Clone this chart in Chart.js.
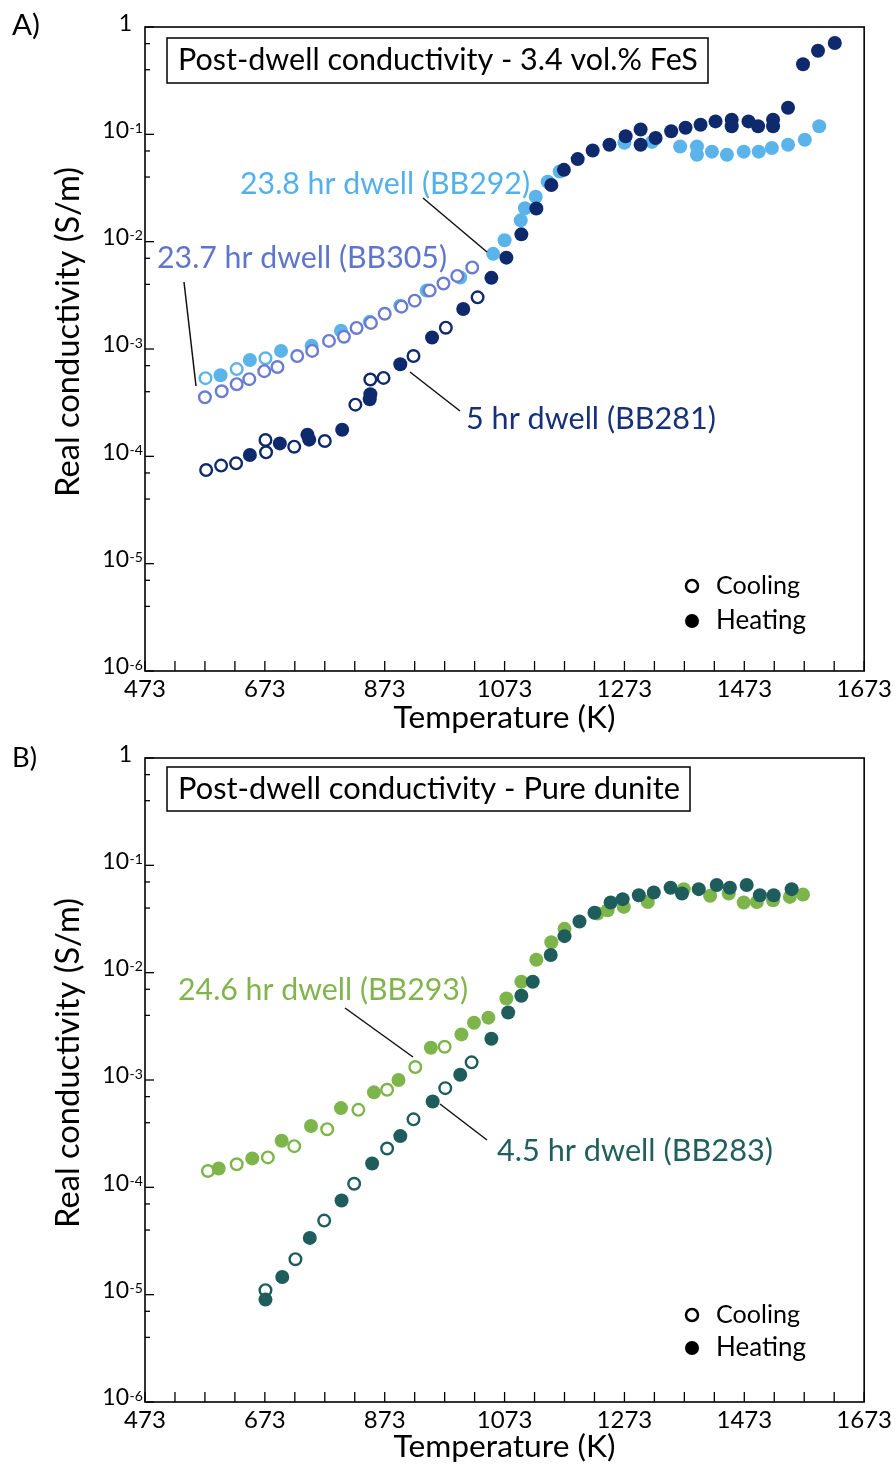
<!DOCTYPE html>
<html><head><meta charset="utf-8">
<script src="https://cdn.jsdelivr.net/npm/chart.js@4.4.1/dist/chart.umd.min.js"></script>
<style>
html,body{margin:0;padding:0;background:#fff;}
#wrap{position:relative;width:896px;height:1466px;overflow:hidden;background:#fff;}
canvas{position:absolute;left:0;}
</style></head>
<body><div id="wrap">
<canvas id="ca" width="896" height="735" style="top:0px"></canvas>
<canvas id="cb" width="896" height="735" style="top:731px"></canvas>
</div>
<script>
// ---------- DATA ----------
const xTickLabels = [473, 673, 873, 1073, 1273, 1473, 1673];
const yDecades = [-6, -5, -4, -3, -2, -1, 0];

// Panel A: 3.4 vol.% FeS
const BB281_coolT = [575, 600, 625, 675, 674, 722, 773, 824, 849, 871, 921, 975, 1028];
const BB281_coolS = [7.45e-5, 8.2e-5, 8.6e-5, 1.09e-4, 1.42e-4, 1.23e-4, 1.39e-4, 3.03e-4, 5.2e-4, 5.38e-4, 8.6e-4, 1.58e-3, 3.03e-3];
const BB281_heatT = [648, 698, 744, 747, 802, 848, 849, 899, 952, 1004, 1051, 1076, 1101, 1126, 1151, 1172, 1195, 1220, 1248, 1275, 1300, 1300, 1325, 1351, 1375, 1400, 1425, 1452, 1452, 1480, 1496, 1521, 1521, 1546, 1571, 1596, 1624];
const BB281_heatS = [1.03e-4, 1.32e-4, 1.59e-4, 1.43e-4, 1.77e-4, 3.4e-4, 3.79e-4, 7.2e-4, 1.28e-3, 2.36e-3, 4.6e-3, 7.1e-3, 1.17e-2, 2.04e-2, 3.37e-2, 4.67e-2, 5.88e-2, 7.08e-2, 8.0e-2, 9.6e-2, 0.111, 0.080, 0.0925, 0.107, 0.115, 0.123, 0.132, 0.137, 0.119, 0.132, 0.119, 0.137, 0.119, 0.177, 0.45, 0.60, 0.71];

const BB292_coolT = [574, 626, 674];
const BB292_coolS = [5.35e-4, 6.5e-4, 8.2e-4];
const BB292_heatT = [599, 648, 700, 751, 800, 848, 899, 943, 999, 1054, 1073, 1100, 1107, 1125, 1145, 1165, 1273, 1319, 1366, 1394, 1394, 1419, 1444, 1472, 1497, 1519, 1546, 1574, 1598];
const BB292_heatS = [5.7e-4, 7.9e-4, 9.6e-4, 1.07e-3, 1.48e-3, 1.79e-3, 2.53e-3, 3.5e-3, 4.63e-3, 7.7e-3, 1.03e-2, 1.58e-2, 2.05e-2, 2.62e-2, 3.62e-2, 4.5e-2, 8.35e-2, 8.5e-2, 7.7e-2, 7.7e-2, 6.45e-2, 6.9e-2, 6.45e-2, 6.9e-2, 6.9e-2, 7.45e-2, 8.0e-2, 8.9e-2, 0.119];

const BB305_coolT = [573, 601, 626, 647, 672, 694, 727, 752, 780, 805, 826, 850, 873, 901, 923, 948, 971, 994, 1019];
const BB305_coolS = [3.55e-4, 4.04e-4, 4.7e-4, 5.24e-4, 6.22e-4, 6.8e-4, 8.6e-4, 9.6e-4, 1.19e-3, 1.3e-3, 1.57e-3, 1.75e-3, 2.13e-3, 2.48e-3, 2.82e-3, 3.5e-3, 4.07e-3, 4.8e-3, 5.75e-3];

// Panel B: pure dunite
const BB293_coolT = [578, 626, 678, 722, 777, 829, 877, 924, 973];
const BB293_coolS = [1.42e-4, 1.64e-4, 1.9e-4, 2.42e-4, 3.48e-4, 5.27e-4, 8.1e-4, 1.32e-3, 2.04e-3];
const BB293_heatT = [596, 652, 701, 750, 800, 855, 896, 950, 1001, 1022, 1046, 1076, 1101, 1126, 1151, 1173, 1228, 1245, 1272, 1312, 1372, 1416, 1447, 1472, 1494, 1521, 1549, 1571];
const BB293_heatS = [1.5e-4, 1.86e-4, 2.72e-4, 3.73e-4, 5.47e-4, 7.67e-4, 1.0e-3, 2.0e-3, 2.66e-3, 3.42e-3, 3.81e-3, 5.74e-3, 8.24e-3, 1.32e-2, 1.92e-2, 2.56e-2, 3.55e-2, 3.82e-2, 4.1e-2, 4.56e-2, 6.0e-2, 5.2e-2, 5.46e-2, 4.5e-2, 4.56e-2, 4.73e-2, 5.08e-2, 5.34e-2];

const BB283_coolT = [674, 724, 772, 822, 877, 921, 974, 1018];
const BB283_coolS = [1.1e-5, 2.14e-5, 4.9e-5, 1.08e-4, 2.3e-4, 4.3e-4, 8.4e-4, 1.46e-3];
const BB283_heatT = [674, 702, 748, 801, 852, 899, 953, 999, 1051, 1079, 1101, 1120, 1150, 1173, 1198, 1223, 1250, 1270, 1297, 1322, 1350, 1369, 1397, 1427, 1449, 1477, 1499, 1522, 1552];
const BB283_heatS = [9.0e-6, 1.46e-5, 3.38e-5, 7.55e-5, 1.67e-4, 3.0e-4, 6.3e-4, 1.12e-3, 2.42e-3, 4.25e-3, 6.1e-3, 8.24e-3, 1.46e-2, 2.19e-2, 3.0e-2, 3.62e-2, 4.5e-2, 4.84e-2, 5.27e-2, 5.58e-2, 6.18e-2, 5.46e-2, 6.0e-2, 6.55e-2, 6.18e-2, 6.55e-2, 5.27e-2, 5.27e-2, 6.0e-2];

// ---------- STYLE ----------
const FONT = 'Lato, "Open Sans", "DejaVu Sans", sans-serif';
const C_NAVY = '#0f2a6c', C_LIGHT = '#5ab4ea', C_PERI = '#6a7bd2', C_GREEN = '#7db54b', C_TEAL = '#1e5d5c';

function pts(T, S) { return T.map((t, i) => ({x: t, y: S[i]})); }
function openSet(T, S, color) {
  return {data: pts(T, S), pointRadius: 5.8, pointBorderWidth: 2.4, pointBorderColor: color,
          pointBackgroundColor: '#ffffff', showLine: false};
}
function fillSet(T, S, color) {
  return {data: pts(T, S), pointRadius: 7, pointBorderWidth: 0, pointBorderColor: color,
          pointBackgroundColor: color, showLine: false};
}

function fitText(ctx, text, x, y, w, align) {
  ctx.font = '100px ' + FONT;
  const m = ctx.measureText(text).width;
  const size = 100 * w / m;
  ctx.font = size.toFixed(2) + 'px ' + FONT;
  ctx.textAlign = align || 'left';
  ctx.textBaseline = 'middle';
  ctx.fillText(text, x, y);
}
function seg(ctx, x1, y1, x2, y2) { ctx.beginPath(); ctx.moveTo(x1, y1); ctx.lineTo(x2, y2); ctx.stroke(); }

const deco = {
  id: 'deco',
  afterDraw(chart) {
    const d = chart.options.plugins.deco;
    const ctx = chart.ctx, a = chart.chartArea, xs = chart.scales.x, ys = chart.scales.y;
    ctx.save();
    ctx.strokeStyle = '#000'; ctx.fillStyle = '#000';
    // frame
    ctx.lineWidth = 1.6;
    ctx.strokeRect(a.left, a.top, a.right - a.left, a.bottom - a.top);
    // inward ticks
    ctx.lineWidth = 1.3;
    xs.ticks.forEach(t => { const x = xs.getPixelForValue(t.value); seg(ctx, x, a.bottom, x, a.bottom - 10); });
    ys.ticks.forEach(t => { const y = ys.getPixelForValue(t.value); seg(ctx, a.left, y, a.left + (t.major ? 9 : 5), y); });
    // y tick labels with superscripts
    yDecades.forEach(e => {
      const y = ys.getPixelForValue(Math.pow(10, e));
      ctx.textBaseline = 'middle';
      if (e === 0) {
        ctx.font = '23px ' + FONT; ctx.textAlign = 'right'; ctx.fillText('1', 132, y - 3);
      } else {
        ctx.font = '23px ' + FONT; ctx.textAlign = 'right'; ctx.fillText('10', 129, y - 4);
        ctx.font = '14px ' + FONT; ctx.textAlign = 'left'; ctx.textBaseline = 'top';
        ctx.fillText('-' + (-e), 129.5, y - 13);
      }
    });
    // axis titles
    fitText(ctx, 'Temperature (K)', (a.left + a.right) / 2 + 0, d.xTitleY, 222, 'center');
    ctx.save(); ctx.translate(68, d.yTitleY); ctx.rotate(-Math.PI / 2);
    fitText(ctx, 'Real conductivity (S/m)', 0, 0, 330, 'center'); ctx.restore();
    // panel letter
    fitText(ctx, d.letter, 12, d.letterY, d.letterW, 'left');
    // title box
    ctx.lineWidth = 1.5;
    const b = d.box;
    ctx.fillStyle = '#fff'; ctx.fillRect(b[0], b[1], b[2] - b[0], b[3] - b[1]);
    ctx.strokeRect(b[0], b[1], b[2] - b[0], b[3] - b[1]);
    ctx.fillStyle = '#000';
    fitText(ctx, d.title, b[0] + 11, (b[1] + b[3]) / 2, d.titleW, 'left');
    // annotations
    d.notes.forEach(n => {
      ctx.strokeStyle = '#111'; ctx.lineWidth = 1.5;
      seg(ctx, n.line[0], n.line[1], n.line[2], n.line[3]);
      ctx.fillStyle = n.color;
      fitText(ctx, n.text, n.x, n.y, n.w, 'left');
    });
    // legend
    ctx.fillStyle = '#000'; ctx.strokeStyle = '#000';
    const L = d.legend;
    ctx.lineWidth = 2.5;
    ctx.beginPath(); ctx.arc(L.cx, L.y1, 6, 0, Math.PI * 2); ctx.stroke();
    ctx.beginPath(); ctx.arc(L.cx, L.y2, 7, 0, Math.PI * 2); ctx.fill();
    fitText(ctx, 'Cooling', L.tx, L.y1, 84, 'left');
    fitText(ctx, 'Heating', L.tx, L.y2, 90, 'left');
    ctx.restore();
  }
};

function makeChart(id, datasets, decoOpts) {
  return new Chart(document.getElementById(id), {
    type: 'scatter',
    data: {datasets},
    options: {
      responsive: false, animation: false, devicePixelRatio: 1,
      layout: {padding: {left: 0, top: 27, right: 29, bottom: 0}},
      plugins: {legend: {display: false}, tooltip: {enabled: false}, deco: decoOpts},
      scales: {
        x: {
          type: 'linear', min: 473, max: 1673,
          afterBuildTicks: s => { const t = []; for (let v = 473; v <= 1673; v += 50) t.push({value: v}); s.ticks = t; },
          afterFit: s => { s.height = 64; },
          grid: {display: false, drawTicks: false, tickLength: 0},
          border: {display: false},
          ticks: {autoSkip: false, maxRotation: 0, minRotation: 0, padding: 4, color: '#000',
                  font: {family: FONT, size: 24},
                  callback: v => xTickLabels.includes(v) ? String(v) : ''}
        },
        y: {
          type: 'logarithmic', min: 1e-6, max: 1,
          afterBuildTicks: s => {
            const t = [];
            yDecades.forEach(e => { for (let m = 1; m <= 9; m++) { if (e === 0 && m > 1) break; t.push({value: m * Math.pow(10, e), major: m === 1}); } });
            s.ticks = t;
          },
          afterFit: s => { s.width = 145; },
          grid: {display: false, drawTicks: false},
          border: {display: false},
          ticks: {callback: () => '', font: {family: FONT, size: 23}}
        }
      }
    },
    plugins: [deco]
  });
}

function build() {
  makeChart('ca', [
    fillSet(BB281_heatT, BB281_heatS, C_NAVY),
    openSet(BB281_coolT, BB281_coolS, C_NAVY),
    openSet(BB305_coolT, BB305_coolS, C_PERI),
    fillSet(BB292_heatT, BB292_heatS, C_LIGHT),
    openSet(BB292_coolT, BB292_coolS, C_LIGHT)
  ], {
    letter: 'A)', letterY: 25, letterW: 28,
    xTitleY: 718, yTitleY: 332,
    box: [167, 38, 708, 83], title: 'Post-dwell conductivity - 3.4 vol.% FeS', titleW: 520,
    notes: [
      {text: '23.8 hr dwell (BB292)', color: '#52b1ea', x: 240, y: 184, w: 290, line: [423, 198, 487, 252]},
      {text: '23.7 hr dwell (BB305)', color: '#5f74cc', x: 157, y: 258, w: 290, line: [184, 282, 196, 386]},
      {text: '5 hr dwell (BB281)', color: '#16317a', x: 466, y: 419, w: 250, line: [410, 372, 460, 411]}
    ],
    legend: {cx: 692, tx: 716, y1: 586, y2: 621}
  });
  makeChart('cb', [
    fillSet(BB283_heatT, BB283_heatS, C_TEAL),
    openSet(BB283_coolT, BB283_coolS, C_TEAL),
    fillSet(BB293_heatT, BB293_heatS, C_GREEN),
    openSet(BB293_coolT, BB293_coolS, C_GREEN)
  ], {
    letter: 'B)', letterY: 27, letterW: 25,
    xTitleY: 716, yTitleY: 332,
    box: [167, 36, 690, 80], title: 'Post-dwell conductivity - Pure dunite', titleW: 502,
    notes: [
      {text: '24.6 hr dwell (BB293)', color: '#82b44e', x: 178, y: 259, w: 290, line: [345, 277, 413, 326]},
      {text: '4.5 hr dwell (BB283)', color: '#215f5d', x: 497, y: 420, w: 276, line: [440, 373, 487, 409]}
    ],
    legend: {cx: 692, tx: 716, y1: 584, y2: 617}
  });
}
if (document.fonts && document.fonts.load) {
  Promise.all([document.fonts.load('24px Lato')]).then(build, build);
} else { build(); }
</script>
</body></html>
